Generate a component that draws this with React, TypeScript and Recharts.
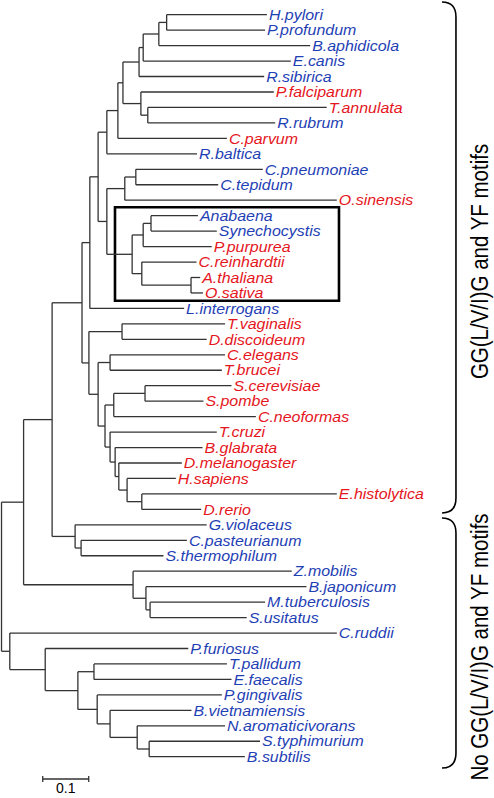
import React from "react"
import { ScatterChart, Scatter, XAxis, YAxis, ReferenceLine, ReferenceArea, ReferenceDot } from "recharts"

// leaves, top to bottom
const leafNames = [
  "H.pylori", "P.profundum", "B.aphidicola", "E.canis", "R.sibirica", "P.falciparum", "T.annulata",
  "R.rubrum", "C.parvum", "R.baltica", "C.pneumoniae", "C.tepidum", "O.sinensis", "Anabaena",
  "Synechocystis", "P.purpurea", "C.reinhardtii", "A.thaliana", "O.sativa", "L.interrogans",
  "T.vaginalis", "D.discoideum", "C.elegans", "T.brucei", "S.cerevisiae", "S.pombe", "C.neoformas",
  "T.cruzi", "B.glabrata", "D.melanogaster", "H.sapiens", "E.histolytica", "D.rerio", "G.violaceus",
  "C.pasteurianum", "S.thermophilum", "Z.mobilis", "B.japonicum", "M.tuberculosis", "S.usitatus",
  "C.ruddii", "P.furiosus", "T.pallidum", "E.faecalis", "P.gingivalis", "B.vietnamiensis",
  "N.aromaticivorans", "S.typhimurium", "B.subtilis",
]

// P = prokaryote, E = eukaryote
const leafDomain = [
  "P", "P", "P", "P", "P", "E", "E", "P", "E", "P", "P", "P", "E", "P", "P", "E", "E", "E", "E", "P",
  "E", "E", "E", "E", "E", "E", "E", "E", "E", "E", "E", "E", "E", "P", "P", "P", "P", "P", "P", "P",
  "P", "P", "P", "P", "P", "P", "P", "P", "P",
]

// distance of each tip from the root
const leafDepth = [
  0.577, 0.573, 0.671, 0.629, 0.571, 0.592, 0.707, 0.595, 0.49, 0.425, 0.568, 0.471, 0.729, 0.427,
  0.468, 0.457, 0.424, 0.432, 0.438, 0.397, 0.486, 0.446, 0.486, 0.479, 0.5, 0.439, 0.553, 0.468,
  0.437, 0.392, 0.379, 0.729, 0.434, 0.446, 0.403, 0.352, 0.631, 0.663, 0.573, 0.533, 0.729, 0.406,
  0.49, 0.5, 0.479, 0.413, 0.486, 0.562, 0.529,
]

// internal nodes: id, first child, second child, distance from root
const clades: [string, string, string, number][] = [
  ["A", "H.pylori", "P.profundum", 0.359],
  ["B", "A", "B.aphidicola", 0.342],
  ["C", "B", "E.canis", 0.308],
  ["D", "C", "R.sibirica", 0.299],
  ["F", "T.annulata", "R.rubrum", 0.318],
  ["E", "P.falciparum", "F", 0.303],
  ["G", "D", "E", 0.264],
  ["H", "G", "C.parvum", 0.253],
  ["I", "H", "R.baltica", 0.229],
  ["Cpn", "C.pneumoniae", "C.tepidum", 0.292],
  ["CpnO", "Cpn", "O.sinensis", 0.268],
  ["AnSy", "Anabaena", "Synechocystis", 0.325],
  ["Cy", "AnSy", "P.purpurea", 0.308],
  ["AtOs", "A.thaliana", "O.sativa", 0.412],
  ["Pl", "C.reinhardtii", "AtOs", 0.305],
  ["Box", "Cy", "Pl", 0.284],
  ["CpnBox", "CpnO", "Box", 0.229],
  ["J", "I", "CpnBox", 0.21],
  ["K", "J", "L.interrogans", 0.192],
  ["TvDd", "T.vaginalis", "D.discoideum", 0.262],
  ["CeTb", "C.elegans", "T.brucei", 0.236],
  ["ScSp", "S.cerevisiae", "S.pombe", 0.312],
  ["Fungi", "ScSp", "C.neoformas", 0.244],
  ["A5", "E.histolytica", "D.rerio", 0.305],
  ["A4", "H.sapiens", "A5", 0.273],
  ["A3", "D.melanogaster", "A4", 0.255],
  ["A2", "B.glabrata", "A3", 0.247],
  ["Anim", "T.cruzi", "A2", 0.236],
  ["E3", "Fungi", "Anim", 0.225],
  ["E2", "CeTb", "E3", 0.21],
  ["Euk", "TvDd", "E2", 0.19],
  ["L", "K", "Euk", 0.175],
  ["CpSt", "C.pasteurianum", "S.thermophilum", 0.173],
  ["Gv", "G.violaceus", "CpSt", 0.16],
  ["M", "L", "Gv", 0.11],
  ["MS", "M.tuberculosis", "S.usitatus", 0.323],
  ["Bj", "B.japonicum", "MS", 0.314],
  ["Zm", "Z.mobilis", "Bj", 0.286],
  ["N", "M", "Zm", 0.048],
  ["SB", "S.typhimurium", "B.subtilis", 0.321],
  ["P5", "N.aromaticivorans", "SB", 0.295],
  ["P4", "B.vietnamiensis", "P5", 0.236],
  ["TE", "T.pallidum", "E.faecalis", 0.201],
  ["P3", "P.gingivalis", "P4", 0.208],
  ["P2", "TE", "P3", 0.166],
  ["P1", "P.furiosus", "P2", 0.095],
  ["Bot", "C.ruddii", "P1", 0.018],
  ["root", "N", "Bot", 0],
]

const groupLabels = ["GG(L/V/I)G and YF motifs", "No GG(L/V/I)G and YF motifs"]
const scaleBarLength = 0.1
const scaleBarText = "0.1"

// layout
const W = 494
const H = 798
const xDomain = [-0.0033, 1.0707]
const yDomain = [-0.95, 50.67]
const braceX = [0.9576, 0.988]
const braceSpans = [[-0.82, 32.23], [32.56, 48.73]]
const boxSpan = { x1: 0.2467, x2: 0.7337, y1: 12.46, y2: 18.5 }
const scaleBarX = 0.0896
const scaleBarY = 49.44
const domainColor: Record<string, string> = { P: "#1f3fb5", E: "#e5161d" }
const treeColor = "#333"
const font = "'Liberation Sans', Arial, sans-serif"

// place nodes: tips at their index, inner nodes at the middle of their children
const pos: Record<string, { x: number; y: number }> = {}
leafNames.forEach((n, i) => (pos[n] = { x: leafDepth[i], y: i }))
const cladeMap = new Map(clades.map((c) => [c[0], c]))
function place(id: string): { x: number; y: number } {
  if (pos[id]) return pos[id]
  const [, a, b, d] = cladeMap.get(id)!
  const pa = place(a)
  const pb = place(b)
  pos[id] = { x: d, y: (pa.y + pb.y) / 2 }
  return pos[id]
}
clades.forEach((c) => place(c[0]))

const segments: { x: number; y: number }[][] = []
clades.forEach(([id, a, b]) => {
  const p = pos[id]
  segments.push([{ x: p.x, y: pos[a].y }, { x: p.x, y: pos[b].y }])
  segments.push([{ x: p.x, y: pos[a].y }, { x: pos[a].x, y: pos[a].y }])
  segments.push([{ x: p.x, y: pos[b].y }, { x: pos[b].x, y: pos[b].y }])
})

const leafData = leafNames.map((n, i) => ({ x: leafDepth[i], y: i, name: n, domain: leafDomain[i] }))

const LeafLabel = (props: any) => {
  const { cx, cy, payload } = props
  return (
    <text
      transform={`translate(${cx + 2},${cy}) scale(1.1,1)`}
      dy="0.36em"
      fontFamily={font}
      fontStyle="italic"
      fontSize={14.5}
      fill={domainColor[payload.domain]}
    >
      {payload.name}
    </text>
  )
}

const braceShape = (label: string) => (props: any) => {
  const { x, y, width, height } = props
  const r = 15
  const x2 = x + width
  const d = `M${x},${y} Q${x2},${y} ${x2},${y + r} L${x2},${y + height - r} Q${x2},${y + height} ${x},${y + height}`
  const cx = x2 + 24
  const cy = y + height / 2 + 4
  return (
    <g>
      <path d={d} fill="none" stroke="#000" strokeWidth={1.6} />
      <text
        transform={`translate(${cx},${cy}) scale(1.14,1) rotate(-90)`}
        textAnchor="middle"
        dominantBaseline="central"
        fontFamily={font}
        fontSize={20.5}
        fill="#000"
      >
        {label}
      </text>
    </g>
  )
}

const ScaleText = (props: any) => (
  <text x={props.cx} y={props.cy} dy="0.36em" textAnchor="middle" fontFamily={font} fontSize={14} fill="#000">
    {scaleBarText}
  </text>
)

export default function App() {
  return (
    <div style={{ position: "absolute", left: 0, top: 0, width: W, height: H, background: "#fff" }}>
      <ScatterChart width={W} height={H} margin={{ top: 0, right: 0, bottom: 0, left: 0 }}>
        <XAxis type="number" dataKey="x" domain={xDomain} hide allowDataOverflow />
        <YAxis type="number" dataKey="y" domain={yDomain} reversed hide allowDataOverflow />
        {segments.map((s, i) => (
          <ReferenceLine key={i} segment={s} stroke={treeColor} strokeWidth={1.3} ifOverflow="visible" />
        ))}
        <ReferenceArea
          x1={boxSpan.x1}
          x2={boxSpan.x2}
          y1={boxSpan.y1}
          y2={boxSpan.y2}
          fill="none"
          fillOpacity={0}
          stroke="#000"
          strokeWidth={2.6}
          ifOverflow="visible"
        />
        {braceSpans.map((s, i) => (
          <ReferenceArea
            key={i}
            x1={braceX[0]}
            x2={braceX[1]}
            y1={s[0]}
            y2={s[1]}
            ifOverflow="visible"
            shape={braceShape(groupLabels[i])}
          />
        ))}
        <ReferenceLine
          segment={[{ x: scaleBarX, y: scaleBarY }, { x: scaleBarX + scaleBarLength, y: scaleBarY }]}
          stroke={treeColor}
          strokeWidth={1.3}
          ifOverflow="visible"
        />
        <ReferenceLine
          segment={[{ x: scaleBarX, y: scaleBarY - 0.2 }, { x: scaleBarX, y: scaleBarY + 0.2 }]}
          stroke={treeColor}
          strokeWidth={1.3}
          ifOverflow="visible"
        />
        <ReferenceLine
          segment={[{ x: scaleBarX + scaleBarLength, y: scaleBarY - 0.2 }, { x: scaleBarX + scaleBarLength, y: scaleBarY + 0.2 }]}
          stroke={treeColor}
          strokeWidth={1.3}
          ifOverflow="visible"
        />
        <ReferenceDot x={scaleBarX + scaleBarLength / 2} y={50.05} ifOverflow="visible" shape={ScaleText} />
        <Scatter data={leafData} shape={LeafLabel} isAnimationActive={false} />
      </ScatterChart>
    </div>
  )
}
